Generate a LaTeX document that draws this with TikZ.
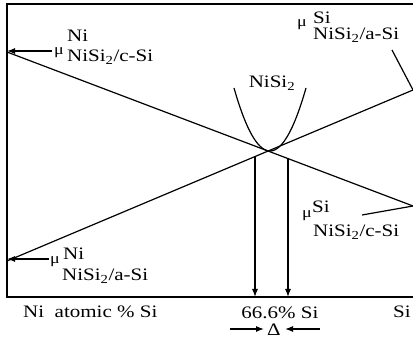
\documentclass[tikz,border=0pt]{standalone}
\usepackage{fontspec}
\setmainfont[FakeStretch=1.2]{Liberation Serif}
\usetikzlibrary{arrows.meta}
\begin{document}
\begin{tikzpicture}[x=1pt,y=-1pt,
  ln/.style={line width=1.2pt},
  arr/.style={line width=1.2pt,-{Latex[length=8pt,width=6pt]}},
  lbl/.style={inner sep=0pt,anchor=base west,font=\fontsize{17.5}{21}\selectfont},
  clbl/.style={inner sep=0pt,anchor=base,font=\fontsize{17.5}{21}\selectfont},
  mulbl/.style={inner sep=0pt,anchor=base west,font=\fontsize{15}{18}\selectfont}]
\useasboundingbox (0,0) rectangle (413,339);
% frame
\coordinate (TL) at (7,4);
\coordinate (TR) at (413,4);
\coordinate (BL) at (7,297);
\coordinate (BR) at (413,297);
\draw[ln] (TR) -- (TL) -- (BL) -- (BR);
% chemical potential lines
\coordinate (L1a) at (7,52);
\coordinate (L1b) at (413,206);
\coordinate (L2a) at (7,261);
\coordinate (L2b) at (413,90);
\draw[ln] (L1a) -- (L1b);
\draw[ln] (L2a) -- (L2b);
% parabola
\draw[ln] plot[domain=-36:36,samples=40,smooth] ({270+\x},{151-63*(\x/36)^2});
\node[clbl] (nisi2) at (272,88) {NiSi\textsubscript{2}};
% vertical arrows
\coordinate (V1a) at (255,156.5);
\coordinate (V1b) at (255,297);
\coordinate (V2a) at (288,158.6);
\coordinate (V2b) at (288,297);
\draw[arr] (V1a) -- (V1b);
\draw[arr] (V2a) -- (V2b);
% top-left label
\coordinate (A1s) at (52,51);
\coordinate (A1e) at (7,51);
\draw[arr] (A1s) -- (A1e);
\node[mulbl] (mu1) at (54,55) {μ};
\node[lbl] (sup1) at (67,42) {Ni};
\node[lbl] (sub1) at (67,62) {NiSi\textsubscript{2}/c-Si};
% bottom-left label
\coordinate (A2s) at (49,259);
\coordinate (A2e) at (7,259);
\draw[arr] (A2s) -- (A2e);
\node[mulbl] (mu2) at (50,264) {μ};
\node[lbl] (sup2) at (63,260) {Ni};
\node[lbl] (sub2) at (62,281) {NiSi\textsubscript{2}/a-Si};
% top-right label
\node[mulbl] (mu3) at (297,27) {μ};
\node[lbl] (sup3) at (313,24) {Si};
\node[lbl] (sub3) at (313,40) {NiSi\textsubscript{2}/a-Si};
\coordinate (T3) at (392,50);
\draw[ln] (T3) -- (L2b);
% bottom-right label
\node[mulbl] (mu4) at (302,218) {μ};
\node[lbl] (sup4) at (312,213) {Si};
\node[lbl] (sub4) at (313,237) {NiSi\textsubscript{2}/c-Si};
\coordinate (T4) at (362,215);
\draw[ln] (T4) -- (L1b);
% axis labels
\node[lbl] (axl) at (23,318) {Ni\ \ atomic \% Si};
\node[lbl] (axr) at (393,318) {Si};
\node[clbl] (pct) at (280,319) {66.6\% Si};
\node[clbl] (delta) at (274,336) {Δ};
\coordinate (D1s) at (230,329);
\coordinate (D1e) at (264,329);
\coordinate (D2s) at (320,329);
\coordinate (D2e) at (285,329);
\draw[arr] (D1s) -- (D1e);
\draw[arr] (D2s) -- (D2e);
\end{tikzpicture}
\end{document}
